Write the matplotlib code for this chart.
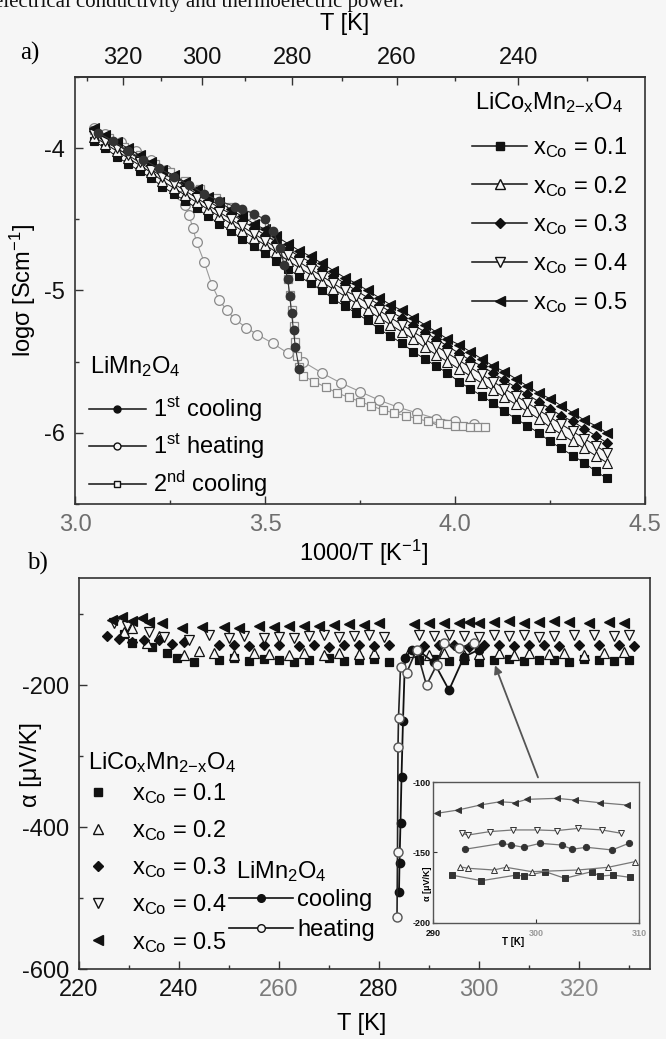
import numpy as np
import matplotlib
matplotlib.use('Agg')
import matplotlib.pyplot as plt
from matplotlib.lines import Line2D

plt.rcParams['font.family'] = ['Liberation Sans', 'DejaVu Sans']
plt.rcParams['mathtext.fontset'] = 'custom'
plt.rcParams['mathtext.rm'] = 'Liberation Sans'
plt.rcParams['mathtext.it'] = 'Liberation Sans:italic'
plt.rcParams['mathtext.bf'] = 'Liberation Sans:bold'
plt.rcParams['axes.unicode_minus'] = False

# ---------------- data: panel a (log sigma vs 1000/T) ----------------
COND_X = [3.05, 3.08, 3.11, 3.14, 3.17, 3.20, 3.23, 3.26, 3.29, 3.32, 3.35, 3.38,
          3.41, 3.44, 3.47, 3.50, 3.53, 3.56, 3.59, 3.62, 3.65, 3.68, 3.71, 3.74,
          3.77, 3.80, 3.83, 3.86, 3.89, 3.92, 3.95, 3.98, 4.01, 4.04, 4.07, 4.10,
          4.13, 4.16, 4.19, 4.22, 4.25, 4.28, 4.31, 4.34, 4.37, 4.40]
COND_01 = [-3.95, -4.00, -4.06, -4.11, -4.16, -4.21, -4.27, -4.32, -4.37, -4.42, -4.48, -4.53,
           -4.58, -4.64, -4.69, -4.74, -4.79, -4.85, -4.90, -4.95, -5.00, -5.06, -5.11, -5.16,
           -5.21, -5.27, -5.32, -5.37, -5.43, -5.48, -5.53, -5.58, -5.64, -5.69, -5.74, -5.79,
           -5.85, -5.90, -5.95, -6.00, -6.06, -6.11, -6.16, -6.21, -6.27, -6.32]
COND_02 = [-3.92, -3.97, -4.02, -4.07, -4.12, -4.17, -4.23, -4.28, -4.33, -4.38, -4.43, -4.48,
           -4.53, -4.58, -4.63, -4.68, -4.73, -4.79, -4.84, -4.89, -4.94, -4.99, -5.04, -5.09,
           -5.14, -5.19, -5.24, -5.29, -5.34, -5.40, -5.45, -5.50, -5.55, -5.60, -5.65, -5.70,
           -5.75, -5.80, -5.85, -5.90, -5.96, -6.01, -6.06, -6.11, -6.16, -6.21]
COND_03 = [-3.88, -3.93, -3.97, -4.03, -4.07, -4.12, -4.17, -4.22, -4.27, -4.32, -4.37, -4.42,
           -4.46, -4.51, -4.56, -4.61, -4.66, -4.71, -4.76, -4.80, -4.85, -4.90, -4.95, -5.00,
           -5.05, -5.10, -5.15, -5.19, -5.24, -5.29, -5.34, -5.39, -5.44, -5.49, -5.53, -5.58,
           -5.63, -5.68, -5.73, -5.78, -5.83, -5.88, -5.92, -5.97, -6.02, -6.07]
COND_04 = [-3.90, -3.95, -4.00, -4.05, -4.10, -4.15, -4.20, -4.25, -4.30, -4.35, -4.40, -4.45,
           -4.50, -4.55, -4.60, -4.65, -4.70, -4.75, -4.80, -4.85, -4.90, -4.95, -5.00, -5.04,
           -5.09, -5.14, -5.19, -5.24, -5.29, -5.34, -5.39, -5.44, -5.49, -5.54, -5.59, -5.64,
           -5.69, -5.74, -5.79, -5.84, -5.89, -5.94, -5.99, -6.04, -6.09, -6.14]
COND_05 = [-3.86, -3.91, -3.96, -4.00, -4.05, -4.10, -4.15, -4.19, -4.24, -4.29, -4.34, -4.38,
           -4.43, -4.48, -4.53, -4.57, -4.62, -4.67, -4.72, -4.76, -4.81, -4.86, -4.91, -4.95,
           -5.00, -5.05, -5.10, -5.14, -5.19, -5.24, -5.29, -5.34, -5.38, -5.43, -5.48, -5.53,
           -5.57, -5.62, -5.67, -5.72, -5.76, -5.81, -5.86, -5.91, -5.95, -6.00]

LMO_COOL1_X = [3.06, 3.10, 3.14, 3.18, 3.22, 3.26, 3.30, 3.34, 3.38, 3.42, 3.44, 3.47,
               3.50, 3.52, 3.54, 3.55, 3.56, 3.565, 3.57, 3.575, 3.58, 3.59]
LMO_COOL1_Y = [-3.89, -3.95, -4.02, -4.08, -4.14, -4.20, -4.26, -4.32, -4.37, -4.41, -4.43, -4.46,
               -4.50, -4.58, -4.70, -4.82, -4.92, -5.04, -5.16, -5.28, -5.40, -5.55]
LMO_HEAT1_X = [4.05, 4.00, 3.95, 3.90, 3.85, 3.80, 3.75, 3.70, 3.65, 3.60, 3.56, 3.52, 3.48,
               3.45, 3.42, 3.40, 3.38, 3.36, 3.34, 3.32, 3.31, 3.30, 3.29, 3.28, 3.27, 3.26,
               3.24, 3.20, 3.16, 3.12, 3.08, 3.05]
LMO_HEAT1_Y = [-5.94, -5.92, -5.90, -5.86, -5.82, -5.77, -5.71, -5.65, -5.58, -5.50, -5.44, -5.37, -5.31,
               -5.26, -5.20, -5.14, -5.07, -4.96, -4.80, -4.66, -4.56, -4.47, -4.40, -4.33, -4.27, -4.21,
               -4.15, -4.08, -4.02, -3.96, -3.90, -3.86]
LMO_COOL2_X = [3.05, 3.09, 3.13, 3.17, 3.21, 3.25, 3.29, 3.33, 3.37, 3.41, 3.45, 3.49, 3.52,
               3.54, 3.55, 3.56, 3.565, 3.57, 3.575, 3.58, 3.585, 3.59, 3.60, 3.63, 3.66, 3.69,
               3.72, 3.75, 3.78, 3.81, 3.84, 3.87, 3.90, 3.93, 3.96, 3.98, 4.00, 4.02, 4.04,
               4.06, 4.08]
LMO_COOL2_Y = [-3.87, -3.93, -3.99, -4.05, -4.11, -4.17, -4.23, -4.29, -4.35, -4.41, -4.47, -4.53, -4.60,
               -4.70, -4.80, -4.92, -5.03, -5.14, -5.25, -5.36, -5.46, -5.54, -5.60, -5.64, -5.68, -5.72,
               -5.75, -5.78, -5.81, -5.84, -5.86, -5.88, -5.90, -5.92, -5.93, -5.94, -5.95, -5.95, -5.96,
               -5.96, -5.96]

TOP_T_TICKS = [320, 300, 280, 260, 240]
TOP_T_MINOR = [330, 310, 290, 270, 250, 230]
BOT_X_TICKS = [3.0, 3.5, 4.0, 4.5]
LOGS_TICKS = [-4, -5, -6]

# ---------------- data: panel b (Seebeck vs T) ----------------
SEEB_T_01 = [229, 230.5, 234.5, 237.5, 239.5, 243, 248, 251, 254, 257, 260, 263, 266, 270, 273, 276, 279,
             282, 288, 291, 294, 297, 300, 303, 306, 309, 312, 315, 318, 321, 324, 327, 330]
SEEB_V_01 = [-128, -141, -146, -154, -162, -168, -164, -162, -166, -163, -165, -167, -164, -162, -166,
             -165, -163, -167, -165, -163, -166, -164, -167, -165, -163, -166, -164, -165, -167, -163,
             -165, -166, -164]
SEEB_T_02 = [229, 230.5, 233.5, 236, 241, 244, 247, 251, 255, 258, 262, 265, 269, 272, 276, 279, 286,
             290, 293, 297, 300, 304, 307, 310, 314, 317, 321, 325, 329]
SEEB_V_02 = [-125, -120, -140, -131, -158, -152, -155, -157, -154, -156, -158, -155, -157, -154, -156,
             -155, -153, -157, -155, -158, -156, -154, -157, -155, -156, -154, -157, -155, -153]
SEEB_T_03 = [225.5, 228, 230.5, 233, 236, 238.5, 241, 248, 251, 254, 257, 260, 264, 267, 270, 273, 276,
             279, 282, 289, 292, 295, 298, 301, 304, 307, 310, 313, 316, 320, 324, 328, 331]
SEEB_V_03 = [-131, -135, -139, -137, -137, -142, -139, -144, -143, -145, -144, -143, -145, -144, -146,
             -144, -143, -145, -144, -145, -143, -144, -146, -144, -143, -145, -144, -143, -145, -144,
             -143, -144, -145]
SEEB_T_04 = [227, 229.5, 234, 237, 242, 246, 250, 253, 257, 260, 263, 266, 269, 272, 275, 278, 281, 288,
             291, 294, 297, 300, 303, 306, 309, 312, 315, 319, 323, 327, 330]
SEEB_V_04 = [-113, -117, -125, -132, -137, -130, -133, -131, -134, -132, -133, -131, -130, -132, -131,
             -130, -132, -129, -131, -130, -131, -132, -130, -131, -130, -132, -131, -130, -129, -131, -130]
SEEB_T_05 = [226.5, 228.5, 230.5, 232.5, 234, 236.5, 240.5, 244.5, 249, 252, 256, 259, 262, 265, 268,
             271, 274, 277, 280, 287, 290, 293, 296, 298, 300, 303, 306, 309, 312, 315, 318, 322, 326, 329]
SEEB_V_05 = [-108, -104, -110, -106, -111, -113, -120, -118, -118, -119, -117, -118, -116, -117, -116,
             -115, -114, -115, -113, -114, -113, -112, -112, -111, -112, -111, -110, -112, -111, -110,
             -111, -112, -111, -112]
LMO_COOL_T = [300, 297, 294, 291, 288, 286.5, 285.2, 284.8, 284.5, 284.3, 284.1, 284.0]
LMO_COOL_V = [-150, -160, -207, -168, -152, -150, -162, -250, -330, -394, -450, -492]
LMO_HEAT_T = [283.6, 283.7, 283.8, 283.9, 284.3, 285.5, 287.5, 289.5, 291.5, 293, 296, 299]
LMO_HEAT_V = [-527, -435, -287, -246, -175, -183, -150, -200, -172, -140, -148, -140]

SEEB_X_TICKS = [220, 240, 260, 280, 300, 320]
SEEB_Y_TICKS = [-200, -400, -600]

# inset data (290-310 K)
INS_T_05 = [290.4, 292.4, 294.6, 296.5, 298.0, 299.1, 302.0, 303.8, 306.2, 308.8]
INS_V_05 = [-122.2, -119.9, -116.3, -114.0, -114.7, -112.3, -111.6, -112.8, -114.7, -116.3]
INS_T_04 = [292.8, 293.4, 295.5, 297.8, 300.1, 302.0, 304.1, 306.4, 308.3]
INS_V_04 = [-136.4, -137.6, -135.2, -134.0, -134.0, -134.5, -132.9, -134.0, -136.4]
INS_T_03 = [293.1, 296.7, 297.6, 298.8, 300.4, 302.5, 303.5, 304.9, 307.4, 309.0]
INS_V_03 = [-147.7, -143.5, -144.7, -146.3, -143.5, -144.7, -147.7, -146.3, -148.2, -143.5]
INS_T_02 = [292.6, 293.4, 295.9, 297.1, 299.6, 304.1, 307.0, 309.6]
INS_V_02 = [-160.1, -161.2, -162.4, -160.5, -163.6, -162.4, -160.5, -156.5]
INS_T_01 = [291.8, 294.7, 298.1, 298.8, 300.9, 302.8, 305.4, 306.2, 307.5, 309.1]
INS_V_01 = [-166.0, -170.0, -166.0, -166.7, -163.6, -168.3, -163.6, -166.7, -166.0, -167.6]

CO_LABELS = ['0.1', '0.2', '0.3', '0.4', '0.5']

# ---------------- figure ----------------
W, H = 666, 1039
BG = '#f6f6f6'
K = '#111111'
fig = plt.figure(figsize=(W / 100, H / 100), dpi=100, facecolor=BG)


def fx(px):
    return px / W


def fy(py):
    return 1 - py / H


ax1 = fig.add_axes([fx(75), fy(504), fx(645) - fx(75), fy(77) - fy(504)], facecolor=BG)
ax2 = fig.add_axes([fx(79), fy(969), fx(650) - fx(79), fy(578) - fy(969)], facecolor=BG)
axin = fig.add_axes([fx(433), fy(923), fx(639) - fx(433), fy(782) - fy(923)], facecolor=BG)

FS = 17
co_style = [
    dict(marker='s', mfc=K, ms=5.5),
    dict(marker='^', mfc=BG, ms=7),
    dict(marker='D', mfc=K, ms=5.5),
    dict(marker='v', mfc=BG, ms=7),
    dict(marker='<', mfc=K, ms=7),
]
cond_series = [COND_01, COND_02, COND_03, COND_04, COND_05]

# LiMn2O4 curves (gray)
ax1.plot(LMO_HEAT1_X, LMO_HEAT1_Y, color='#9a9a9a', lw=0.8, marker='o', ms=7,
         mfc=BG, mec='#8a8a8a', mew=0.9, zorder=2)
ax1.plot(LMO_COOL2_X, LMO_COOL2_Y, color='#9a9a9a', lw=0.8, marker='s', ms=5.5,
         mfc=BG, mec='#8a8a8a', mew=0.9, zorder=2)
for ys, st in zip(cond_series, co_style):
    ax1.plot(COND_X, ys, color=K, lw=0.7, mec=K, mew=0.8, zorder=3, **st)
ax1.plot(LMO_COOL1_X, LMO_COOL1_Y, color='#333333', lw=0.8, marker='o', ms=6,
         mfc='#333333', mec='#333333', zorder=4)

ax1.set_xlim(3.0, 4.5)
ax1.set_ylim(-6.5, -3.5)
ax1.set_xticks(BOT_X_TICKS)
ax1.set_xticklabels(['3.0', '3.5', '4.0', '4.5'])
ax1.set_xticks([3.25, 3.75, 4.25], minor=True)
ax1.set_yticks(LOGS_TICKS)
ax1.set_yticks([-3.5, -4.5, -5.5, -6.5], minor=True)
ax1.tick_params(which='both', direction='in', top=False, right=False, labelsize=FS, pad=7,
                width=1, colors='#333333')
ax1.tick_params(which='major', length=6)
ax1.tick_params(which='minor', length=3)
for lab in ax1.get_xticklabels():
    lab.set_color('#6e6e6e')
for lab in ax1.get_yticklabels():
    lab.set_color('#111111')
for sp in ax1.spines.values():
    sp.set_color('#333333')
    sp.set_linewidth(1.2)


def inv(v):
    v = np.asarray(v, dtype=float)
    with np.errstate(divide='ignore', invalid='ignore'):
        return 1000.0 / v


sec = ax1.secondary_xaxis('top', functions=(inv, inv))
sec.set_xticks(TOP_T_TICKS)
sec.set_xticks(TOP_T_MINOR, minor=True)
sec.tick_params(which='both', direction='in', labelsize=FS, pad=6, width=1, colors='#333333')
sec.tick_params(which='major', length=6)
sec.tick_params(which='minor', length=3)
for lab in sec.get_xticklabels():
    lab.set_color('#111111')
sec.spines['top'].set_color('#333333')
sec.spines['top'].set_linewidth(1.2)

TITLE_CO = r'LiCo$_{\mathrm{x}}$Mn$_{\mathrm{2{-}x}}$O$_{\mathrm{4}}$'
TITLE_LMO = r'LiMn$_{\mathrm{2}}$O$_{\mathrm{4}}$'
co_labels = [r'x$_{\mathrm{Co}}$ = ' + c for c in CO_LABELS]

# legend: Co series (panel a)
fig.text(fx(475), fy(103), TITLE_CO, fontsize=FS, ha='left', va='center')
h_co = [Line2D([0], [0], color=K, lw=1.1, mec=K, **st) for st in co_style]
leg1 = ax1.legend(h_co, co_labels, loc='upper left',
                  bbox_to_anchor=(fx(472), fy(135)), bbox_transform=fig.transFigure,
                  frameon=False, fontsize=FS, handlelength=2.35,
                  handletextpad=0.25, labelspacing=0.585, borderpad=0, borderaxespad=0)
ax1.add_artist(leg1)
# legend: LiMn2O4 (panel a)
fig.text(fx(90), fy(367), TITLE_LMO, fontsize=FS, ha='left', va='center')
h_lmo = [Line2D([0], [0], color=K, lw=1.1, marker='o', ms=5, mfc=K, mec=K),
         Line2D([0], [0], color=K, lw=1.1, marker='o', ms=5, mfc=BG, mec=K),
         Line2D([0], [0], color=K, lw=1.1, marker='s', ms=4.5, mfc=BG, mec=K)]
lmo_labels = [r'1$^{\mathrm{st}}$ cooling', r'1$^{\mathrm{st}}$ heating', r'2$^{\mathrm{nd}}$ cooling']
leg2 = ax1.legend(h_lmo, lmo_labels, loc='upper left',
                  bbox_to_anchor=(fx(89), fy(395)), bbox_transform=fig.transFigure,
                  frameon=False, fontsize=FS, handlelength=2.4,
                  handletextpad=0.3, labelspacing=0.32, borderpad=0, borderaxespad=0)

fig.text(fx(-6), fy(7), 'electrical conductivity and thermoelectric power.', family='Liberation Serif',
         fontsize=15, ha='left', va='baseline', color='#111111')
fig.text(fx(345), fy(24), 'T [K]', fontsize=FS, ha='center', va='center')
fig.text(fx(30), fy(53), 'a)', family='Liberation Serif', fontsize=18, ha='center', va='center')
fig.text(fx(37), fy(563), 'b)', family='Liberation Serif', fontsize=18, ha='center', va='center')
fig.text(fx(23), fy(290), r'logσ [Scm$^{\mathrm{-1}}$]', fontsize=FS, rotation=90,
         ha='center', va='center')
fig.text(fx(364), fy(553), r'1000/T [K$^{\mathrm{-1}}$]', fontsize=FS, ha='center', va='center')

# ---------------- panel b ----------------
seeb = [(SEEB_T_01, SEEB_V_01), (SEEB_T_02, SEEB_V_02), (SEEB_T_03, SEEB_V_03),
        (SEEB_T_04, SEEB_V_04), (SEEB_T_05, SEEB_V_05)]
b_style = [
    dict(marker='s', mfc=K, ms=6),
    dict(marker='^', mfc=BG, ms=7.5),
    dict(marker='D', mfc=K, ms=5.5),
    dict(marker='v', mfc=BG, ms=7.5),
    dict(marker='<', mfc=K, ms=7.5),
]
for (t, v), st in zip(seeb, b_style):
    ax2.plot(t, v, ls='none', mec=K, mew=0.9, zorder=3, **st)
ax2.plot(LMO_COOL_T, LMO_COOL_V, color=K, lw=1.3, marker='o', ms=6, mfc=K, mec=K, zorder=4)
ax2.plot(LMO_HEAT_T, LMO_HEAT_V, color='#222222', lw=1.2, marker='o', ms=6.5, mfc=BG,
         mec='#555555', zorder=4)

ax2.set_xlim(220, 334.2)
ax2.set_ylim(-600, -49)
ax2.set_xticks(SEEB_X_TICKS)
ax2.set_xticks([230, 250, 270, 290, 310, 330], minor=True)
ax2.set_yticks(SEEB_Y_TICKS)
ax2.set_yticks([-100, -300, -500], minor=True)
ax2.tick_params(which='both', direction='in', top=False, right=False, labelsize=FS, pad=7,
                width=1, colors='#333333')
ax2.tick_params(which='major', length=6)
ax2.tick_params(which='minor', length=3)
xcols = ['#111111', '#111111', '#7a7a7a', '#111111', '#7a7a7a', '#8a8a8a']
for lab, c in zip(ax2.get_xticklabels(), xcols):
    lab.set_color(c)
for lab in ax2.get_yticklabels():
    lab.set_color('#111111')
for sp in ax2.spines.values():
    sp.set_color('#333333')
    sp.set_linewidth(1.2)

# legend: Co series (panel b)
fig.text(fx(88), fy(763), TITLE_CO, fontsize=FS, ha='left', va='center')
h_b = [Line2D([0], [0], ls='none', mec=K, **st) for st in b_style]
leg3 = ax2.legend(h_b, co_labels, loc='upper left',
                  bbox_to_anchor=(fx(86), fy(781)), bbox_transform=fig.transFigure,
                  frameon=False, fontsize=FS, handlelength=1.0,
                  handletextpad=0.95, labelspacing=0.52, borderpad=0, borderaxespad=0)
ax2.add_artist(leg3)
# legend: LiMn2O4 (panel b)
fig.text(fx(236), fy(872), TITLE_LMO, fontsize=FS, ha='left', va='center')
h_b2 = [Line2D([0], [0], color=K, lw=1.2, marker='o', ms=5.5, mfc=K, mec=K),
        Line2D([0], [0], color=K, lw=1.2, marker='o', ms=5.5, mfc=BG, mec=K)]
leg4 = ax2.legend(h_b2, ['cooling', 'heating'], loc='upper left',
                  bbox_to_anchor=(fx(229), fy(889)), bbox_transform=fig.transFigure,
                  frameon=False, fontsize=FS, handlelength=2.7,
                  handletextpad=0.2, labelspacing=0.33, borderpad=0, borderaxespad=0)

fig.text(fx(31), fy(765), 'α [μV/K]', fontsize=FS, rotation=90, ha='center', va='center')
fig.text(fx(362), fy(1024), 'T [K]', fontsize=FS, ha='center', va='center')

# ---------------- inset ----------------
ins = [(INS_T_01, INS_V_01), (INS_T_02, INS_V_02), (INS_T_03, INS_V_03),
       (INS_T_04, INS_V_04), (INS_T_05, INS_V_05)]
in_style = [
    dict(marker='s', mfc='#333333', ms=4),
    dict(marker='^', mfc=BG, ms=5),
    dict(marker='o', mfc='#333333', ms=4.5),
    dict(marker='v', mfc=BG, ms=5),
    dict(marker='<', mfc='#333333', ms=5),
]
for (t, v), st in zip(ins, in_style):
    axin.plot(t, v, color='#777777', lw=0.9, mec='#333333', mew=0.7, **st)
axin.set_xlim(290, 310)
axin.set_ylim(-200, -100)
axin.set_xticks([290, 300, 310])
axin.set_xticklabels(['290', '300', '310'], fontweight='bold')
axin.set_yticks([-100, -150, -200])
axin.set_yticklabels(['-100', '-150', '-200'], fontweight='bold')
axin.tick_params(axis='y', direction='in', labelsize=6.5, length=3, pad=1.5, colors='#333333')
axin.tick_params(axis='x', direction='in', labelsize=6.5, length=3, pad=4, colors='#333333')
for lab, c in zip(axin.get_xticklabels(), ['#111111', '#999999', '#999999']):
    lab.set_color(c)
for lab in axin.get_yticklabels():
    lab.set_color('#111111')
for sp in axin.spines.values():
    sp.set_color('#555555')
    sp.set_linewidth(1.0)
fig.text(fx(428), fy(884), 'α [μV/K]', fontsize=6.5, fontweight='bold', rotation=90,
         ha='center', va='center')
fig.text(fx(513), fy(942), 'T [K]', fontsize=7, fontweight='bold', ha='center', va='center')

ax2.annotate('', xy=(303.2, -172), xytext=(311.8, -330),
             arrowprops=dict(arrowstyle='-|>', color='#555555', lw=1.3, mutation_scale=12,
                             shrinkA=0, shrinkB=0), zorder=6)

fig.savefig('out.png', dpi=100, facecolor=BG)
